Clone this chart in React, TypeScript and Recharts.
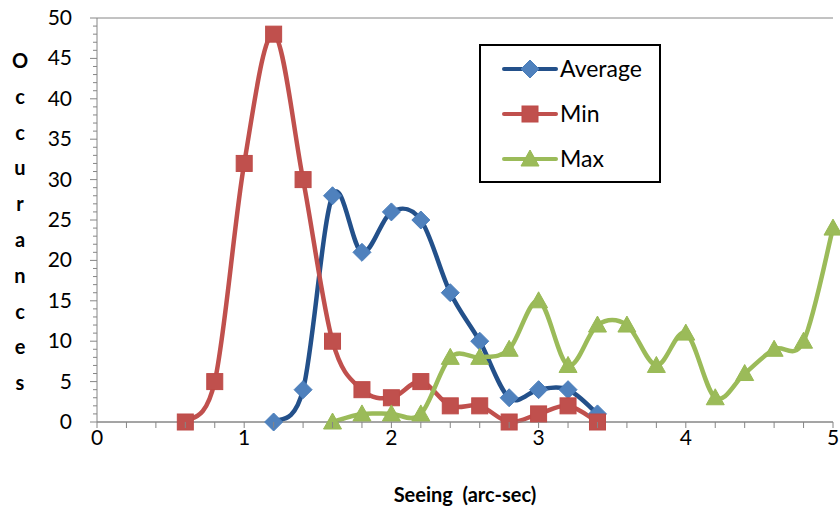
import { LineChart, Line, XAxis, YAxis, CartesianGrid, Legend } from "recharts";

const avgX = [1.2, 1.4, 1.6, 1.8, 2.0, 2.2, 2.4, 2.6, 2.8, 3.0, 3.2, 3.4];
const avgY = [0, 4, 28, 21, 26, 25, 16, 10, 3, 4, 4, 1];
const minX = [0.6, 0.8, 1.0, 1.2, 1.4, 1.6, 1.8, 2.0, 2.2, 2.4, 2.6, 2.8, 3.0, 3.2, 3.4];
const minY = [0, 5, 32, 48, 30, 10, 4, 3, 5, 2, 2, 0, 1, 2, 0];
const maxX = [1.6, 1.8, 2.0, 2.2, 2.4, 2.6, 2.8, 3.0, 3.2, 3.4, 3.6, 3.8, 4.0, 4.2, 4.4, 4.6, 4.8, 5.0];
const maxY = [0, 1, 1, 1, 8, 8, 9, 15, 7, 12, 12, 7, 11, 3, 6, 9, 10, 24];

const xTicks = [0, 0.2, 0.4, 0.6, 0.8, 1, 1.2, 1.4, 1.6, 1.8, 2, 2.2, 2.4, 2.6, 2.8, 3, 3.2, 3.4, 3.6, 3.8, 4, 4.2, 4.4, 4.6, 4.8, 5];
const xLabels = [0, 1, 2, 3, 4, 5];
const yMinorTicks = Array.from({ length: 51 }, (_, i) => i);
const yMajorTicks = [0, 5, 10, 15, 20, 25, 30, 35, 40, 45, 50];
const yTitle = "Occurances";
const xTitle = "Seeing  (arc-sec)";

const toRows = (xs: number[], ys: number[]) => xs.map((x, i) => ({ x, y: ys[i] }));

const FONT = "Lato, 'Open Sans', sans-serif";
const AXIS = "#868686";

// excel-like smoothed line (catmull-rom through the points)
const smooth = (context: any) => {
  let pts: [number, number][] = [];
  return {
    areaStart() {},
    areaEnd() {},
    lineStart() {
      pts = [];
    },
    point(x: number, y: number) {
      pts.push([+x, +y]);
    },
    lineEnd() {
      if (!pts.length) return;
      context.moveTo(pts[0][0], pts[0][1]);
      for (let i = 0; i < pts.length - 1; i++) {
        const p0 = pts[i - 1] || pts[i];
        const p1 = pts[i];
        const p2 = pts[i + 1];
        const p3 = pts[i + 2] || p2;
        context.bezierCurveTo(
          p1[0] + (p2[0] - p0[0]) / 6,
          p1[1] + (p2[1] - p0[1]) / 6,
          p2[0] - (p3[0] - p1[0]) / 6,
          p2[1] - (p3[1] - p1[1]) / 6,
          p2[0],
          p2[1]
        );
      }
    },
  };
};

const Diamond = ({ cx, cy }: any) => (
  <path d={`M${cx},${cy - 9}L${cx + 9},${cy}L${cx},${cy + 9}L${cx - 9},${cy}Z`} fill="#4F81BD" stroke="#4A7EBB" strokeWidth={1} />
);
const Square = ({ cx, cy }: any) => (
  <rect x={cx - 8} y={cy - 8} width={16} height={16} fill="#C0504D" stroke="#BE4B48" strokeWidth={1} />
);
const Triangle = ({ cx, cy }: any) => (
  <path d={`M${cx},${cy - 9}L${cx + 9},${cy + 7}L${cx - 9},${cy + 7}Z`} fill="#9BBB59" stroke="#98B954" strokeWidth={1} />
);

const series = [
  { name: "Average", rows: toRows(avgX, avgY), line: "#23508A", Marker: Diamond },
  { name: "Min", rows: toRows(minX, minY), line: "#C0504D", Marker: Square },
  { name: "Max", rows: toRows(maxX, maxY), line: "#9BBB59", Marker: Triangle },
];

const YTick = ({ x, y, payload }: any) => {
  const major = payload.value % 5 === 0;
  return (
    <g>
      <line x1={x} x2={x - (major ? 7 : 4)} y1={y} y2={y} stroke={AXIS} />
      {major && (
        <text x={x - 25} y={y} dy={7} textAnchor="end" fontSize={21} fontFamily={FONT} fill="#000">
          {payload.value}
        </text>
      )}
    </g>
  );
};

const XTick = ({ x, y, payload }: any) => {
  const v = Math.round(payload.value * 10) / 10;
  return (
    <g>
      <line x1={x} x2={x} y1={y} y2={y + 6} stroke={AXIS} />
      {xLabels.includes(v) && (
        <text x={x} y={y} dy={23} textAnchor="middle" fontSize={21} fontFamily={FONT} fill="#000">
          {v}
        </text>
      )}
    </g>
  );
};

const YTitle = () => (
  <text fontSize={20} fontWeight="bold" fontFamily={FONT} fill="#000" textAnchor="middle">
    {yTitle.split("").map((c, i) => (
      <tspan key={i} x={20} y={68 + i * 35.8}>
        {c}
      </tspan>
    ))}
  </text>
);

const XTitle = ({ viewBox }: any) => (
  <text
    x={viewBox.x + viewBox.width / 2}
    y={viewBox.y + 80}
    textAnchor="middle"
    fontSize={20}
    fontWeight="bold"
    fontFamily={FONT}
    fill="#000"
    style={{ whiteSpace: "pre" }}
  >
    {xTitle}
  </text>
);

const LegendBox = () => (
  <div
    style={{
      border: "2px solid #000",
      background: "#fff",
      width: 182,
      height: 139,
      boxSizing: "border-box",
      paddingTop: 0,
      fontFamily: FONT,
      fontSize: 23,
      lineHeight: 1,
    }}
  >
    {series.map((s) => (
      <div key={s.name} style={{ display: "flex", alignItems: "center", height: 45 }}>
        <svg width={56} height={20} style={{ marginLeft: 21, marginRight: 2 }}>
          <line x1={2} x2={54} y1={10} y2={10} stroke={s.line} strokeWidth={4} strokeLinecap="round" />
          <s.Marker cx={28} cy={10} />
        </svg>
        <span>{s.name}</span>
      </div>
    ))}
  </div>
);

export default function App() {
  return (
    <div style={{ position: "absolute", left: 0, top: 0, background: "#fff" }}>
      <LineChart width={840} height={511} margin={{ top: 18, right: 7, bottom: 49, left: 37 }}>
        <XAxis
          type="number"
          dataKey="x"
          domain={[0, 5]}
          ticks={xTicks}
          interval={0}
          tickSize={0}
          tickMargin={0}
          tickLine={false}
          tick={<XTick />}
          stroke={AXIS}
          height={40}
          allowDuplicatedCategory={false}
          label={<XTitle />}
        />
        <YAxis
          type="number"
          domain={[0, 50]}
          ticks={yMinorTicks}
          interval={0}
          tickSize={0}
          tickMargin={0}
          tickLine={false}
          tick={<YTick />}
          stroke={AXIS}
          width={60}
          label={<YTitle />}
        />
        <YAxis yAxisId="grid" type="number" domain={[0, 50]} ticks={yMajorTicks} hide />
        <CartesianGrid yAxisId="grid" vertical={false} stroke={AXIS} strokeWidth={1} />
        {series.map((s) => (
          <Line
            key={s.name}
            data={s.rows}
            dataKey="y"
            name={s.name}
            type={smooth as any}
            stroke={s.line}
            strokeWidth={4.5}
            dot={<s.Marker />}
            activeDot={false}
            isAnimationActive={false}
          />
        ))}
        <Legend
          layout="vertical"
          align="center"
          verticalAlign="middle"
          content={<LegendBox />}
          wrapperStyle={{ left: 479, top: 44, width: 182, height: 139 }}
        />
      </LineChart>
    </div>
  );
}
